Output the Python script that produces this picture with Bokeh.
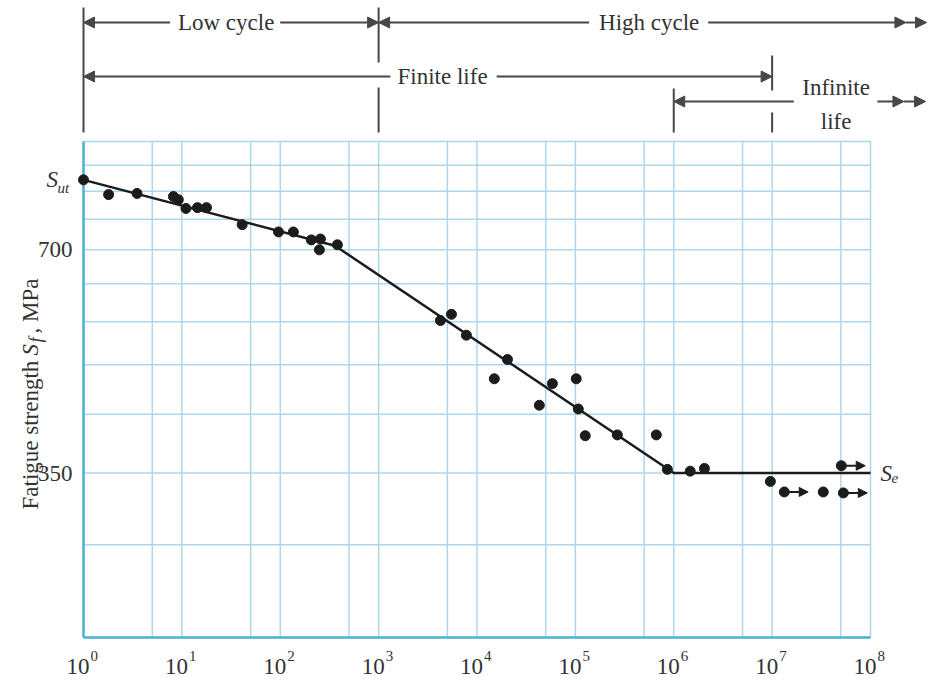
import math
from bokeh.plotting import figure
from bokeh.models import (Range1d, LinearScale, Arrow, NormalHead, ColumnDataSource)
from bokeh.core.properties import value
from bokeh.embed import file_html
from bokeh.resources import INLINE

# ---------------- data ----------------
cycles = [1, 1.8, 3.5, 8.2, 9.2, 11, 14.4, 17.8, 41, 96, 136, 207, 256, 250, 381,
          4250, 5500, 7800, 20400, 15000, 58400, 102000, 43000, 107000, 126000,
          267000, 665000, 861000, 1.47e6, 2.05e6, 9.6e6, 3.31e7]
strength = [870, 831, 834, 826, 818, 796, 798, 798, 757, 740, 740, 722, 724, 700, 711,
            562, 573, 537, 498, 469, 462, 469, 432, 427, 393,
            394, 394, 354, 352, 355, 341, 330]
runout_cycles = [1.33e7, 5.3e7, 5.05e7]
runout_strength = [330, 329, 358]
sn_cycles = [1, 360, 1e6, 1e8]
sn_strength = [870, 709, 350, 350]
Sut = 870
Se = 350
x_exponents = list(range(9))
x_major = [10 ** k for k in x_exponents]
x_grid = [m * 10 ** k for k in range(8) for m in (1, 5)] + [1e8]
y_ticks = [350, 700]
y_grid = [210, 280, 350, 420, 490, 560, 630, 700, 770, 840, 910, 980]
x_min, x_max = 1, 1e8
y_min, y_max = 210, 980

# ---------------- layout / style ----------------
W, H = 930, 679
F_LEFT, F_RIGHT, F_TOP, F_BOTTOM = 83, 870, 141, 637   # plot-area box in figure pixels
FONT = value("Liberation Serif")
FS = "23px"
FS_SMALL = "15px"
TXT = "#333333"
LINE = "#474747"
INK = "#1c1c1c"
GRID = "#abd7ec"
AXIS = "#4bb3cf"

dec_px = (F_RIGHT - F_LEFT) / math.log10(x_max / x_min)
x_lo = x_min * 10 ** (-F_LEFT / dec_px)
x_hi = x_min * 10 ** ((W - F_LEFT) / dec_px)
ydec_px = (F_BOTTOM - F_TOP) / math.log10(y_max / y_min)
y_hi = y_max * 10 ** (F_TOP / ydec_px)
y_lo = y_min / 10 ** ((H - F_BOTTOM) / ydec_px)

p = figure(width=W, height=H, x_axis_type="log", y_axis_type="log",
           x_range=Range1d(x_lo, x_hi), y_range=Range1d(y_lo, y_hi),
           min_border=0, x_axis_location=None, y_axis_location=None,
           toolbar_location=None, output_backend="svg")
p.grid.visible = False
p.outline_line_color = None
p.background_fill_color = "white"
p.extra_x_ranges = {"px": Range1d(0, W)}
p.extra_y_ranges = {"px": Range1d(H, 0)}
p.extra_x_scales = {"px": LinearScale()}
p.extra_y_scales = {"px": LinearScale()}

# ---------------- grid and frame ----------------
p.segment(x0=x_grid, y0=[y_min] * len(x_grid), x1=x_grid, y1=[y_max] * len(x_grid),
          line_color=GRID, line_width=1.5)
p.segment(x0=[x_min] * len(y_grid), y0=y_grid, x1=[x_max] * len(y_grid), y1=y_grid,
          line_color=GRID, line_width=1.5)
p.segment(x0=[x_min, x_min], y0=[y_min, y_min], x1=[x_min, x_max], y1=[y_max, y_min],
          line_color=AXIS, line_width=2.5)

# ---------------- tick labels ----------------
p.text(x=x_major, y=[666] * len(x_major), text=["10"] * len(x_major), y_range_name="px",
       text_font=FONT, text_font_size=FS, text_color=TXT, text_align="right",
       text_baseline="alphabetic", x_offset=6)
p.text(x=x_major, y=[655] * len(x_major), text=[str(k) for k in x_exponents], y_range_name="px",
       text_font=FONT, text_font_size=FS_SMALL, text_color=TXT, text_align="left",
       text_baseline="alphabetic", x_offset=7)
p.text(x=[72] * len(y_ticks), y=y_ticks, text=[str(v) for v in y_ticks], x_range_name="px",
       text_font=FONT, text_font_size=FS, text_color=TXT, text_align="right",
       text_baseline="middle")

# S_ut and S_e
p.text(x=[46], y=[Sut], text=["S"], x_range_name="px", text_font=FONT, text_font_size=FS,
       text_font_style="italic", text_color=TXT, text_align="left", text_baseline="middle")
p.text(x=[57], y=[Sut], text=["ut"], x_range_name="px", text_font=FONT, text_font_size=FS_SMALL,
       text_font_style="italic", text_color=TXT, text_align="left", text_baseline="top")
p.text(x=[880], y=[Se], text=["S"], x_range_name="px", text_font=FONT, text_font_size=FS,
       text_font_style="italic", text_color=TXT, text_align="left", text_baseline="middle")
p.text(x=[891], y=[Se], text=["e"], x_range_name="px", text_font=FONT, text_font_size=FS_SMALL,
       text_font_style="italic", text_color=TXT, text_align="left", text_baseline="top")

# y-axis title, rotated, built from pieces
rot = dict(x_range_name="px", y_range_name="px", text_font=FONT, text_color=TXT,
           text_align="left", text_baseline="alphabetic", angle=math.pi / 2)
p.text(x=[30], y=[509], text=["Fatigue strength"], text_font_size=FS, **rot)
p.text(x=[30], y=[355], text=["S"], text_font_size=FS, text_font_style="italic", **rot)
p.text(x=[35], y=[342], text=["f"], text_font_size="18px", text_font_style="italic", **rot)
p.text(x=[30], y=[333], text=[", MPa"], text_font_size=FS, **rot)

# ---------------- regime annotations above the plot ----------------
p.segment(x0=[1, 1e3, 1e3, 1e6, 1e7, 1e7], y0=[7, 7, 87, 88, 55, 112],
          x1=[1, 1e3, 1e3, 1e6, 1e7, 1e7], y1=[132, 62, 132, 132, 90, 132],
          y_range_name="px", line_color=LINE, line_width=2)

def arrow(xa, ya, xb, yb, size=11):
    p.add_layout(Arrow(end=NormalHead(size=size, fill_color=LINE, line_color=LINE, line_width=1),
                       x_start=xa, y_start=ya, x_end=xb, y_end=yb, y_range_name="px",
                       line_color=LINE, line_width=2))

def label(x, y, text):
    p.text(x=[x], y=[y], text=[text], y_range_name="px", text_font=FONT, text_font_size=FS,
           text_color=TXT, text_align="center", text_baseline="middle")

# row 1
label(10 ** 1.45, 22, "Low cycle")
arrow(10 ** 0.88, 22, 1, 22)
arrow(10 ** 2.0, 22, 1e3, 22)
label(10 ** 5.75, 22, "High cycle")
arrow(10 ** 5.14, 22, 1e3, 22)
arrow(10 ** 6.35, 22, 10 ** 8.36, 22)
arrow(10 ** 8.36, 22, 10 ** 8.57, 22)
# row 2
label(10 ** 3.65, 76, "Finite life")
arrow(10 ** 3.12, 76, 1, 76)
arrow(10 ** 4.2, 76, 1e7, 76)
# row 3
arrow(10 ** 7.22, 101, 1e6, 101)
label(10 ** 7.65, 87, "Infinite")
label(10 ** 7.65, 121, "life")
arrow(10 ** 8.07, 101, 10 ** 8.34, 101)
arrow(10 ** 8.34, 101, 10 ** 8.56, 101)

# ---------------- data marks ----------------
p.line(sn_cycles, sn_strength, line_color=INK, line_width=2.5)
p.scatter(cycles, strength, size=10, color=INK)
p.scatter(runout_cycles, runout_strength, size=10, color=INK)
ro = ColumnDataSource(dict(x0=runout_cycles, y0=runout_strength,
                           x1=[c * 1.75 for c in runout_cycles], y1=runout_strength))
p.add_layout(Arrow(end=NormalHead(size=9, fill_color=INK, line_color=INK, line_width=1),
                   x_start="x0", y_start="y0", x_end="x1", y_end="y1", source=ro,
                   line_color=INK, line_width=2))

open("out.html", "w").write(file_html(p, INLINE))
